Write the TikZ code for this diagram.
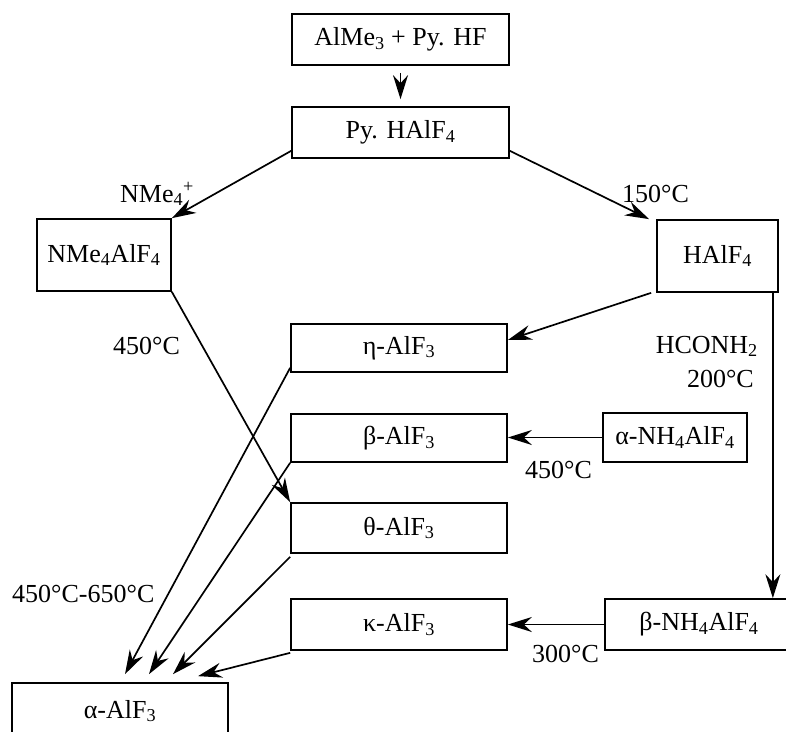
\documentclass[tikz,border=0pt]{standalone}
\usepackage{fontspec}
\setmainfont{Liberation Serif}
\usetikzlibrary{arrows.meta,calc}
\begin{document}
\begin{tikzpicture}[x=1pt,y=-1pt,
  box/.style={draw, line width=1.7pt, rectangle, inner sep=0pt, font=\fontsize{26}{30}\selectfont},
  lab/.style={inner sep=0pt, font=\fontsize{26}{30}\selectfont},
  arr/.style={line width=1.7pt, -{Stealth[length=24pt,width=15pt,inset=8pt]}}]
\useasboundingbox (0,0) rectangle (786,731);
\clip (0,0) rectangle (786,731);
% boxes
\node[box, minimum width=217pt, minimum height=51pt] (top) at (400.5,39.5) {AlMe\textsubscript{3} + Py. HF};
\node[box, minimum width=217pt, minimum height=51pt] (py) at (400.5,132.5) {Py. HAlF\textsubscript{4}};
\node[box, minimum width=134pt, minimum height=72pt] (nme) at (104,255) {NMe\textsubscript{4}AlF\textsubscript{4}};
\node[box, minimum width=121pt, minimum height=72pt] (hal) at (717.5,256) {HAlF\textsubscript{4}};
\node[box, minimum width=216pt, minimum height=48pt] (eta) at (399,348) {η-AlF\textsubscript{3}};
\node[box, minimum width=216pt, minimum height=48pt] (beta) at (399,438) {β-AlF\textsubscript{3}};
\node[box, minimum width=216pt, minimum height=50pt] (theta) at (399,528) {θ-AlF\textsubscript{3}};
\node[box, minimum width=216pt, minimum height=51pt] (kappa) at (399,624.5) {κ-AlF\textsubscript{3}};
\node[box, minimum width=144pt, minimum height=49pt] (anh) at (675,437.5) {α-NH\textsubscript{4}AlF\textsubscript{4}};
\node[box, minimum width=188pt, minimum height=51pt] (bnh) at (699,624.5) {β-NH\textsubscript{4}AlF\textsubscript{4}};
\node[box, minimum width=216pt, minimum height=56pt] (alpha) at (120,711) {α-AlF\textsubscript{3}};
% arrows
\draw[arr, shorten <=7pt, shorten >=7pt] (top) -- (py);
\draw[arr] ([yshift=8pt]py.south west) -- (nme.north east);
\draw[arr] ([yshift=8pt]py.south east) -- ([xshift=-7pt]hal.north west);
\draw[arr] ([xshift=-5pt]hal.south west) -- ([yshift=8pt]eta.east);
\draw[arr] ([xshift=-6pt]hal.south east) -- ([xshift=-6pt]hal.south east |- bnh.north);
\draw[arr] (anh.west) -- (anh.west -| beta.east);
\draw[arr] (bnh.west) -- (bnh.west -| kappa.east);
\draw[arr] (nme.south east) -- (theta.north west);
\draw[arr] ([yshift=5pt]eta.south west) -- ([xshift=5pt,yshift=8pt]alpha.north);
\draw[arr] (beta.south west) -- ([xshift=29pt,yshift=8pt]alpha.north);
\draw[arr] ([yshift=-3pt]theta.south west) -- ([xshift=53pt,yshift=8pt]alpha.north);
\draw[arr] ([yshift=-2pt]kappa.south west) -- ([xshift=78pt,yshift=6pt]alpha.north);
% labels
\node[lab, anchor=base west] (l1) at (120,202) {NMe\textsubscript{4}\textsuperscript{+}};
\node[lab, anchor=base west] (l2) at (622,202) {150°C};
\node[lab, anchor=base west] (l3) at (113,354) {450°C};
\node[lab, anchor=base east] (l4) at (758,353) {HCONH\textsubscript{2}};
\node[lab, anchor=base east] (l5) at (754,387) {200°C};
\node[lab, anchor=base west] (l6) at (525,478) {450°C};
\node[lab, anchor=base west] (l7) at (532,662) {300°C};
\node[lab, anchor=base west] (l8) at (12,602) {450°C-650°C};
\end{tikzpicture}
\end{document}
